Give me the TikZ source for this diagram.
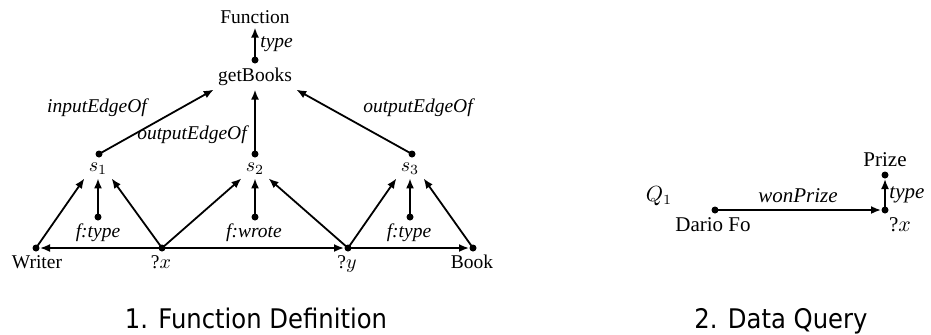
\documentclass[tikz,border=0pt]{standalone}
\usepackage{fontspec}
\setmainfont{Liberation Serif}
\newfontfamily\capfont[FakeStretch=0.9]{DejaVu Sans}
\usetikzlibrary{arrows.meta}
\begin{document}
\begin{tikzpicture}[x=0.5pt,y=-0.5pt,
  lbl/.style={inner sep=2pt,font=\fontsize{9.75}{11}\selectfont},
  rlbl/.style={inner sep=2pt,font=\fontsize{10.5}{12}\selectfont},
  elbl/.style={inner sep=0pt,anchor=base,font=\fontsize{9.75}{11}\selectfont\itshape},
  relbl/.style={inner sep=0pt,anchor=base,font=\fontsize{10.5}{12}\selectfont\itshape},
  dot/.style={circle,fill=black,inner sep=0pt,minimum size=3.5pt},
  edge/.style={line width=0.9pt,-{Latex[length=5pt,width=4pt]}},
  captxt/.style={anchor=base,inner sep=0pt,font=\fontsize{13.5}{16}\selectfont\capfont}]
\useasboundingbox (0,0) rectangle (931,334);

% ---------- Function Definition ----------
\node[lbl,anchor=base] (fun) at (255,23) {Function};
\node[lbl,anchor=base] (gb) at (255,81) {getBooks};
\node[dot] (gbd) at (255,60) {};
\draw[edge] (gbd.center) -- (fun);
\node[elbl,anchor=base west] (ty1) at (260,47) {type};

\node[lbl,anchor=base] (s1) at (98,171) {$s_1$};
\node[lbl,anchor=base] (s2) at (255,171) {$s_2$};
\node[lbl,anchor=base] (s3) at (410,171) {$s_3$};
\node[dot] (s1d) at (99,154) {};
\node[dot] (s2d) at (255,154) {};
\node[dot] (s3d) at (412,154) {};
\draw[edge] (s1d.center) -- (gb.south west);
\draw[edge] (s2d.center) -- (gb.south);
\draw[edge] (s3d.center) -- (gb.south east);
\node[elbl] (ie) at (97,112) {inputEdgeOf};
\node[elbl] (oe1) at (192,139) {outputEdgeOf};
\node[elbl] (oe2) at (418,112) {outputEdgeOf};

\node[elbl] (ft1) at (98,237) {f:type};
\node[elbl] (fw) at (254,237) {f:wrote};
\node[elbl] (ft3) at (409,237) {f:type};
\node[dot] (ft1d) at (98,217) {};
\node[dot] (fwd) at (255,217) {};
\node[dot] (ft3d) at (410,217) {};
\draw[edge] (ft1d.center) -- (s1.south);
\draw[edge] (fwd.center) -- (s2.south);
\draw[edge] (ft3d.center) -- (s3.south);

\node[lbl,anchor=base] (wr) at (37,268) {Writer};
\node[lbl,anchor=base] (x) at (161,268) {?$x$};
\node[lbl,anchor=base] (y) at (347,268) {?$y$};
\node[lbl,anchor=base] (bk) at (472,268) {Book};
\node[dot] (wrd) at (36,248) {};
\node[dot] (xd) at (162,248) {};
\node[dot] (yd) at (348,248) {};
\node[dot] (bkd) at (473,248) {};
\draw[edge,shorten >=2pt] (xd.center) -- (wrd.center);
\draw[edge,shorten >=2pt] (xd.center) -- (yd.center);
\draw[edge,shorten >=2pt] (yd.center) -- (bkd.center);
\draw[edge] (wrd.center) -- (s1.south west);
\draw[edge] (xd.center) -- (s1.south east);
\draw[edge] (xd.center) -- (s2.south west);
\draw[edge] (yd.center) -- (s2.south east);
\draw[edge] (yd.center) -- (s3.south west);
\draw[edge] (bkd.center) -- (s3.south east);

% ---------- Data Query ----------
\node[rlbl,anchor=base] (q) at (659,201) {$Q_1$};
\node[rlbl,anchor=base] (df) at (713,231) {Dario Fo};
\node[rlbl,anchor=base] (qx) at (900,231) {?$x$};
\node[rlbl,anchor=base] (pr) at (885,166) {Prize};
\node[dot] (dfd) at (715,210) {};
\node[dot] (qxd) at (885,210) {};
\node[dot] (prd) at (885,175) {};
\draw[edge,shorten >=2pt] (dfd.center) -- (qxd.center);
\draw[edge,shorten >=2pt] (qxd.center) -- (prd.center);
\node[relbl] (wp) at (798,202) {wonPrize};
\node[relbl,anchor=base west] (ty2) at (889,198) {type};

% ---------- captions ----------
\node[captxt] (c1) at (256,328) {1. Function Definition};
\node[captxt] (c2) at (781,328) {2. Data Query};
\end{tikzpicture}
\end{document}
